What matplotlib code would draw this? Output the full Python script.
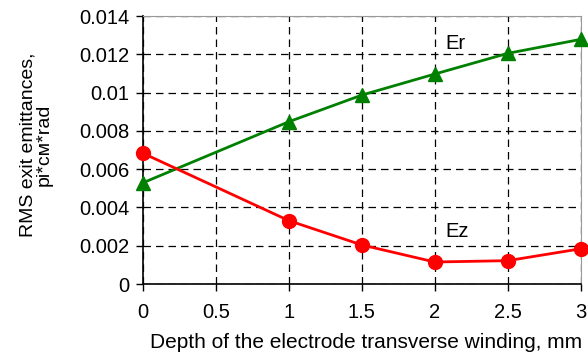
import matplotlib
matplotlib.use("Agg")
import matplotlib.pyplot as plt

plt.rcParams['font.family'] = ['Liberation Sans', 'DejaVu Sans']

depth = [0, 1, 1.5, 2, 2.5, 3]
er = [0.00529, 0.00848, 0.00987, 0.01097, 0.01205, 0.01278]
ez = [0.00683, 0.00331, 0.00204, 0.00115, 0.00122, 0.00184]
xticks = [0, 0.5, 1, 1.5, 2, 2.5, 3]
xtick_labels = ['0', '0.5', '1', '1.5', '2', '2.5', '3']
yticks = [0, 0.002, 0.004, 0.006, 0.008, 0.01, 0.012, 0.014]
ytick_labels = ['0', '0.002', '0.004', '0.006', '0.008', '0.01', '0.012', '0.014']

fig = plt.figure(figsize=(5.88, 3.56), dpi=100)
ax = fig.add_axes([0.2432, 0.2022, 0.9876 - 0.2432, 0.955 - 0.2022])

ax.plot(depth, er, color='#008000', lw=2, marker='^', markersize=10, clip_on=False, zorder=3)
ax.plot(depth, ez, color='#ff0000', lw=2, marker='o', markersize=10, clip_on=False, zorder=3)

ax.set_xlim(0, 3)
ax.set_ylim(0, 0.014)
ax.set_xticks(xticks)
ax.set_xticklabels(xtick_labels)
ax.set_yticks(yticks)
ax.set_yticklabels(ytick_labels)
ax.tick_params(axis='both', direction='out', length=5, width=1, labelsize=14.5, colors='black')
ax.tick_params(axis='x', pad=9)
ax.tick_params(axis='y', pad=5)
ax.grid(True, color='black', linestyle=(0, (6, 4)), linewidth=0.9)

for s in ['top', 'right']:
    ax.spines[s].set_color('#999999')
for s in ['left', 'bottom']:
    ax.spines[s].set_color('black')
    ax.spines[s].set_linewidth(1.2)

ax.text(2.07, 0.01226, 'Er', fontsize=14.5)
ax.text(2.07, 0.00247, 'Ez', fontsize=14.5)

ax.set_xlabel('Depth of the electrode transverse winding, mm', fontsize=15)
ax.xaxis.set_label_coords(0.51, -0.22)
ax.xaxis.label.set_va('center')
ax.set_ylabel('RMS exit emittances,\npi*см*rad', fontsize=14, linespacing=0.95)
ax.yaxis.set_label_coords(-0.244, 0.52)
ax.yaxis.label.set_va('center')

fig.savefig('out.png', dpi=100)
